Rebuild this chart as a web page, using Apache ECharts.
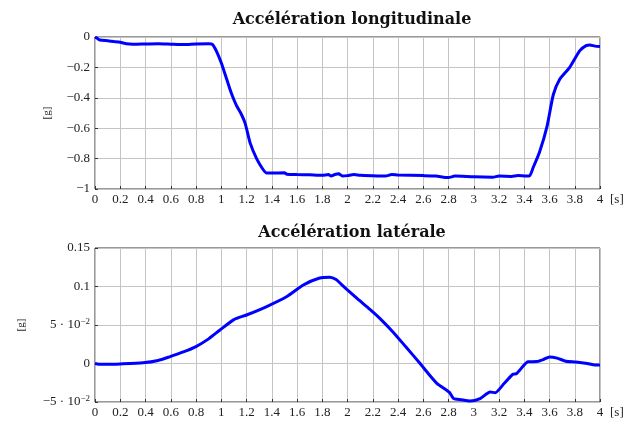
<!DOCTYPE html>
<html>
<head>
<meta charset="utf-8">
<script src="https://cdn.jsdelivr.net/npm/echarts@6/dist/echarts.min.js"></script>
<style>
  html, body { margin: 0; padding: 0; background: #fff; }
  #chart { width: 636px; height: 421px; }
</style>
</head>
<body>
<div id="chart"></div>
<script>
// longitudinal acceleration [g] vs time [s]
const longT = [0, 0.02, 0.04, 0.1, 0.15, 0.2, 0.25, 0.3, 0.4, 0.5, 0.6, 0.7, 0.8, 0.9, 0.93, 0.96, 1.0, 1.04, 1.08, 1.12, 1.16, 1.19, 1.23, 1.28, 1.33, 1.36, 1.4, 1.5, 1.52, 1.6, 1.7, 1.8, 1.85, 1.87, 1.9, 1.93, 1.96, 2.0, 2.05, 2.1, 2.2, 2.3, 2.35, 2.4, 2.6, 2.7, 2.8, 2.85, 3.0, 3.15, 3.2, 3.3, 3.35, 3.44, 3.47, 3.52, 3.58, 3.63, 3.68, 3.76, 3.84, 3.89, 3.92, 3.96, 4.0];
const longV = [0, -0.01, -0.02, -0.025, -0.03, -0.035, -0.045, -0.048, -0.046, -0.044, -0.047, -0.05, -0.046, -0.045, -0.048, -0.09, -0.17, -0.27, -0.37, -0.45, -0.51, -0.57, -0.7, -0.8, -0.87, -0.895, -0.895, -0.893, -0.903, -0.905, -0.907, -0.91, -0.905, -0.915, -0.905, -0.9, -0.915, -0.912, -0.905, -0.91, -0.913, -0.915, -0.905, -0.908, -0.912, -0.915, -0.925, -0.915, -0.92, -0.922, -0.915, -0.917, -0.912, -0.915, -0.86, -0.76, -0.59, -0.38, -0.28, -0.2, -0.09, -0.057, -0.052, -0.06, -0.062];

// lateral acceleration [g] vs time [s]
const latT = [0, 0.03, 0.1, 0.2, 0.38, 0.5, 0.59, 0.7, 0.8, 0.9, 0.99, 1.1, 1.2, 1.36, 1.52, 1.65, 1.78, 1.86, 1.91, 1.95, 1.99, 2.08, 2.18, 2.26, 2.36, 2.46, 2.57, 2.65, 2.71, 2.78, 2.81, 2.84, 2.9, 2.97, 3.05, 3.13, 3.17, 3.24, 3.31, 3.34, 3.43, 3.5, 3.55, 3.6, 3.66, 3.73, 3.81, 3.9, 3.96, 4.0];
const latV = [0, -0.001, -0.001, -0.0005, 0.001, 0.004, 0.0087, 0.015, 0.022, 0.032, 0.0435, 0.057, 0.063, 0.074, 0.087, 0.102, 0.111, 0.112, 0.109, 0.103, 0.097, 0.084, 0.07, 0.058, 0.041, 0.022, 0.001, -0.015, -0.026, -0.034, -0.038, -0.0455, -0.047, -0.0486, -0.0455, -0.037, -0.038, -0.026, -0.014, -0.013, 0.0022, 0.0025, 0.005, 0.0085, 0.007, 0.003, 0.002, 0.0, -0.002, -0.002];

const serif = '"Liberation Serif", "DejaVu Serif", serif';
const titleFont = '"DejaVu Serif", "Liberation Serif", serif';
const gridColor = '#c4c4c4';

function fmtNum(v) {
  let s = String(+v.toFixed(2));
  return s.replace('-', '\u2212');
}

function xAxisCfg(idx) {
  return {
    type: 'value', gridIndex: idx, min: 0, max: 4, interval: 0.2,
    name: '[s]', nameLocation: 'end', nameGap: 10,
    nameTextStyle: { fontFamily: serif, fontSize: 13, color: '#222', verticalAlign: 'top', padding: [4, 0, 0, 0] },
    axisLine: { show: false, onZero: false },
    axisTick: { show: true, inside: true, length: 3, lineStyle: { color: '#333' } },
    axisLabel: { fontFamily: serif, fontSize: 13, color: '#222', margin: 4, formatter: fmtNum, showMinLabel: true, showMaxLabel: true },
    splitLine: { show: true, lineStyle: { color: gridColor, width: 1 } }
  };
}

const chart = echarts.init(document.getElementById('chart'), null, { renderer: 'canvas' });

chart.setOption({
  animation: false,
  backgroundColor: '#fff',
  title: [
    { text: 'Accélération longitudinale', left: 347, top: 7, textAlign: 'center',
      textStyle: { fontFamily: titleFont, fontWeight: 'bold', fontSize: 16, color: '#111' } },
    { text: 'Accélération latérale', left: 347, top: 220, textAlign: 'center',
      textStyle: { fontFamily: titleFont, fontWeight: 'bold', fontSize: 16, color: '#111' } }
  ],
  grid: [
    { left: 95, right: 36, top: 37, height: 152, show: true, borderColor: '#333', borderWidth: 1, backgroundColor: 'transparent' },
    { left: 95, right: 36, top: 248, height: 154, show: true, borderColor: '#333', borderWidth: 1, backgroundColor: 'transparent' }
  ],
  xAxis: [xAxisCfg(0), xAxisCfg(1)],
  yAxis: [
    {
      type: 'value', gridIndex: 0, min: -1, max: 0, interval: 0.2,
      name: '[g]', nameLocation: 'middle', nameGap: 42, nameRotate: 90, nameMoveOverlap: false,
      nameTextStyle: { fontFamily: serif, fontSize: 11, color: '#222' },
      axisLine: { show: false, onZero: false },
      axisTick: { show: true, inside: true, length: 3, lineStyle: { color: '#333' } },
      axisLabel: { fontFamily: serif, fontSize: 13, color: '#222', margin: 5, formatter: fmtNum },
      splitLine: { show: true, lineStyle: { color: gridColor, width: 1 } }
    },
    {
      type: 'value', gridIndex: 1, min: -0.05, max: 0.15, interval: 0.05,
      name: '[g]', nameLocation: 'middle', nameGap: 68, nameRotate: 90, nameMoveOverlap: false,
      nameTextStyle: { fontFamily: serif, fontSize: 11, color: '#222' },
      axisLine: { show: false, onZero: false },
      axisTick: { show: true, inside: true, length: 3, lineStyle: { color: '#333' } },
      axisLabel: {
        fontFamily: serif, fontSize: 13, color: '#222', margin: 5,
        formatter: function (v) {
          const r = Math.round(v * 100) / 100;
          if (r === 0.05) return '5 \u00b7 10{sup|\u22122}';
          if (r === -0.05) return '\u22125 \u00b7 10{sup|\u22122}';
          return fmtNum(r);
        },
        rich: { sup: { fontFamily: serif, fontSize: 9, color: '#222', verticalAlign: 'top', padding: [0, 0, 6, 0] } }
      },
      splitLine: { show: true, lineStyle: { color: gridColor, width: 1 } }
    }
  ],
  series: [
    {
      type: 'line', xAxisIndex: 0, yAxisIndex: 0, showSymbol: false, smooth: 0.2,
      lineStyle: { color: '#0000ff', width: 3 },
      data: longT.map((t, i) => [t, longV[i]])
    },
    {
      type: 'line', xAxisIndex: 1, yAxisIndex: 1, showSymbol: false, smooth: 0.2,
      lineStyle: { color: '#0000ff', width: 3 },
      data: latT.map((t, i) => [t, latV[i]])
    }
  ]
});
</script>
</body>
</html>
